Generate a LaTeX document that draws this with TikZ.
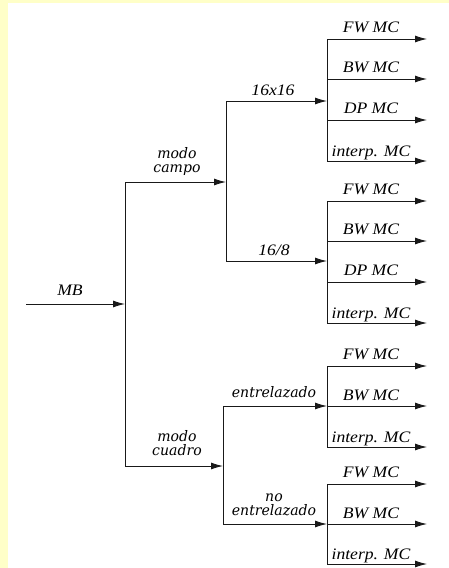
\documentclass[tikz,border=0pt]{standalone}
\usepackage{fontspec}
\newfontfamily\labfont[FakeStretch=1.1]{Liberation Serif Italic}
\newfontfamily\widefont[FakeStretch=0.97]{DejaVu Serif Italic}
\usetikzlibrary{arrows.meta}
\definecolor{bgyellow}{HTML}{FFFFC8}
\begin{document}
\begin{tikzpicture}[x=1pt,y=-1pt,
  wire/.style={line width=0.9pt, draw=black!90},
  arr/.style={wire, -{Latex[length=12pt,width=7pt]}},
  lab/.style={font=\labfont\fontsize{16}{16}\selectfont, inner sep=0pt, anchor=base},
  wlab/.style={font=\widefont\fontsize{14.5}{14}\selectfont, inner sep=0pt, anchor=base, align=center}]
\useasboundingbox (0,0) rectangle (449,568);
\fill[bgyellow] (0,0) rectangle (449,568);
\fill[white] (8,3) rectangle (449,568);

% junctions
\coordinate (in) at (26,304);
\coordinate (s0) at (125,304);
\coordinate (s0t) at (125,182);
\coordinate (s0b) at (125,466);
\coordinate (campo) at (226,182);
\coordinate (cuadro) at (223,466);
\coordinate (s1t) at (226,101);
\coordinate (s1b) at (226,261);
\coordinate (g1) at (327,101);
\coordinate (g2) at (327,261);
\coordinate (s2t) at (223,406);
\coordinate (s2b) at (223,524);
\coordinate (g3) at (327,406);
\coordinate (g4) at (327,524);

% main input
\draw[arr] (in) -- (s0);
\draw[wire] (s0t) -- (s0b);
\draw[arr] (s0t) -- (campo);
\draw[arr] (s0b) -- (cuadro);
\draw[wire] (s1t) -- (s1b);
\draw[arr] (s1t) -- (g1);
\draw[arr] (s1b) -- (g2);
\draw[wire] (s2t) -- (s2b);
\draw[arr] (s2t) -- (g3);
\draw[arr] (s2b) -- (g4);

% output groups
\foreach \g/\ya/\yb in {a/39/161, b/201/323, c/366/447, d/484/564} {
  \coordinate (\g t) at (327,\ya);
  \coordinate (\g b) at (327,\yb);
  \draw[wire] (\g t) -- (\g b);
}
\foreach \n/\y in {a1/39, a2/79, a3/120, a4/161, b1/201, b2/241, b3/282, b4/323, c1/366, c2/406, c3/447, d1/484, d2/524, d3/564} {
  \coordinate (\n s) at (327,\y);
  \coordinate (\n e) at (427,\y);
  \draw[arr] (\n s) -- (\n e);
}

% labels
\node[lab] (lMB) at (70,295) {MB};
\node[lab] (l1616) at (273,95) {16x16};
\node[lab] (l168) at (274,255) {16/8};
\node[wlab] (lcampo) at (177,172) {modo\\campo};
\node[wlab] (lcuadro) at (177,455) {modo\\cuadro};
\node[wlab] (lent) at (274,397) {entrelazado};
\node[wlab] (lnoent) at (274,515) {no\\entrelazado};

\foreach \n/\y/\t in {a1/32/FW MC, a2/72/BW MC, a3/113/DP MC, a4/156/interp. MC,
                      b1/194/FW MC, b2/234/BW MC, b3/275/DP MC, b4/318/interp. MC,
                      c1/359/FW MC, c2/400/BW MC, c3/442/interp. MC,
                      d1/477/FW MC, d2/518/BW MC, d3/559/interp. MC} {
  \node[lab] (t\n) at (371,\y) {\t};
}
\end{tikzpicture}
\end{document}
